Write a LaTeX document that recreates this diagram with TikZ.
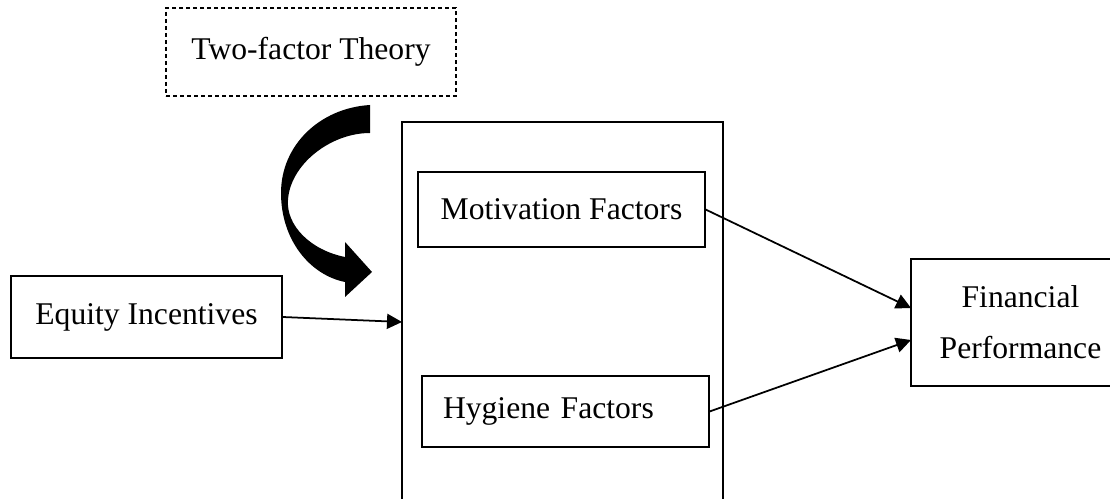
\documentclass[tikz,border=0pt]{standalone}
\usepackage{fontspec}
\setmainfont{Liberation Serif}
\usetikzlibrary{positioning}
\usetikzlibrary{arrows.meta}
\tikzset{>={Triangle[length=0.3cm,width=0.3cm]}}
\tikzset{box/.style={draw, rectangle, line width=0.7pt, inner sep=0pt, font=\fontsize{18}{29}\selectfont}}
\tikzset{link/.style={->, line width=1pt}}

\begin{document}
\begin{tikzpicture}[x=0.02cm, y=-0.02cm]
\clip (0,0) rectangle (1110,499);

\node[box, dash pattern=on 0.08cm off 0.06cm, minimum width=5.8cm, minimum height=1.76cm] (theory) at (311,52) {Two-factor Theory};
\node[box, minimum width=6.42cm, minimum height=8.4cm] (mediator) at (562.5,332) {};
\node[box, minimum width=5.74cm, minimum height=1.5cm] (motiv) at (561.5,209.5) {Motivation Factors};
\node[box, minimum width=5.74cm, minimum height=1.42cm, text width=4.9cm, inner xsep=0.42cm, align=left] (hyg) at (565.5,411.5) {Hygiene Factors};
\node[box, minimum width=5.42cm, minimum height=1.64cm] (equity) at (146.5,317) {Equity Incentives};
\node[box, minimum width=4.38cm, minimum height=2.54cm, align=center] (perf) at (1020.5,322.5) {Financial\\Performance};

\coordinate (inlet) at (402,322);
\coordinate (perf in1) at (911,308);
\coordinate (perf in2) at (911,340);

\draw[link] (equity.east) -- (inlet);
\draw[link] (motiv.east) -- (perf in1);
\draw[link] (hyg.east) -- (perf in2);

% curved arrow from the theory into the factors
\fill (370,105) .. controls (320,108) and (281,145) .. (281,193)
  .. controls (281,240) and (310,275) .. (345,282)
  -- (345,297) -- (372,272) -- (345,242) -- (345,257)
  .. controls (310,250) and (286,225) .. (288,200)
  .. controls (290,165) and (330,133) .. (370,133) -- cycle;
\end{tikzpicture}
\end{document}
